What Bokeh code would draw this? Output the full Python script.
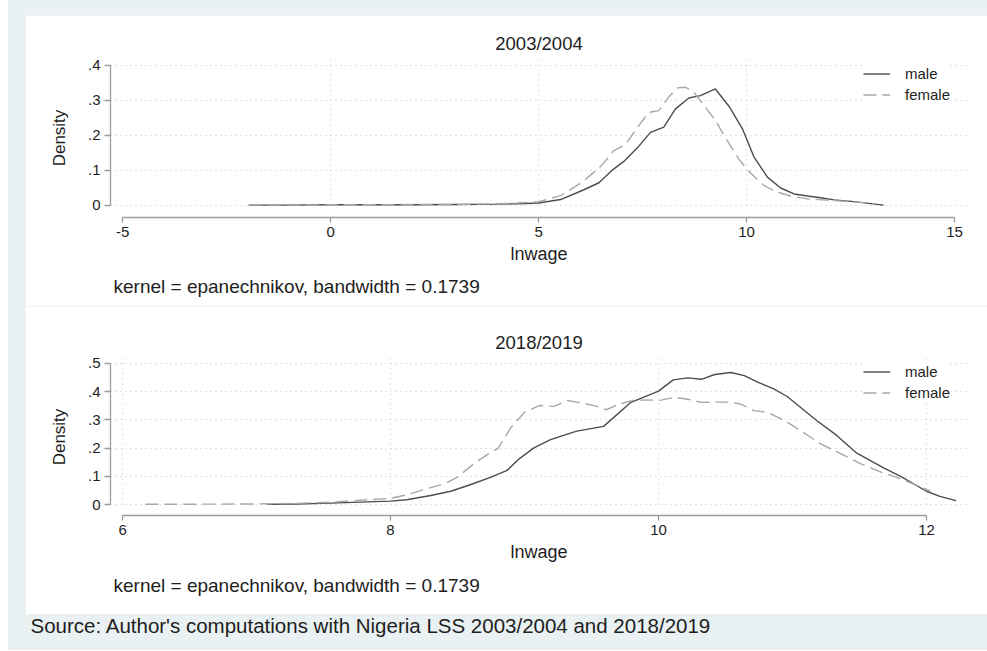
from bokeh.plotting import figure
from bokeh.models import Range1d, FixedTicker, Legend, LegendItem, Title, Spacer, Label
from bokeh.layouts import column, row
from bokeh.embed import file_html
from bokeh.resources import INLINE

FONT = "Liberation Sans"
BG = "#eaf1f2"
MALE_C = "#4d4d4d"
FEMALE_C = "#a8a8a8"
GRID_C = "#c4c4c4"
AXIS_C = "#9c9c9c"
TXT_C = "#1e1e1e"

# ---------------- data ----------------
titles = ["2003/2004", "2018/2019"]
series_names = ["male", "female"]
x_title = "lnwage"
y_title = "Density"
note = "kernel = epanechnikov, bandwidth = 0.1739"
source = "Source: Author's computations with Nigeria LSS 2003/2004 and 2018/2019"

x03_male = [-1.97, -1.0, 0.0, 1.0, 2.0, 3.0, 4.0, 4.5, 5.0, 5.53, 6.09, 6.45, 6.77, 7.05, 7.37,
            7.69, 8.01, 8.29, 8.61, 8.89, 9.25, 9.58, 9.9, 10.18, 10.5, 10.82, 11.14, 11.46,
            11.78, 12.1, 12.58, 13.29]
d03_male = [0.001, 0.001, 0.002, 0.002, 0.002, 0.003, 0.004, 0.005, 0.007, 0.017, 0.045, 0.065,
            0.101, 0.126, 0.164, 0.209, 0.224, 0.276, 0.307, 0.314, 0.333, 0.283, 0.219, 0.138,
            0.081, 0.05, 0.033, 0.027, 0.022, 0.016, 0.011, 0.001]
x03_female = [-1.97, -1.0, 0.0, 1.0, 2.0, 3.0, 4.0, 4.5, 5.0, 5.53, 6.05, 6.49, 6.81, 7.09, 7.37,
              7.65, 7.89, 8.13, 8.33, 8.53, 8.73, 8.97, 9.25, 9.53, 9.81, 10.1, 10.42, 10.74,
              11.06, 11.46, 12.1, 12.74, 13.1]
d03_female = [0.001, 0.001, 0.002, 0.002, 0.003, 0.003, 0.005, 0.007, 0.011, 0.028, 0.067, 0.111,
              0.157, 0.174, 0.222, 0.266, 0.271, 0.31, 0.336, 0.338, 0.324, 0.286, 0.243, 0.186,
              0.133, 0.092, 0.057, 0.038, 0.027, 0.019, 0.014, 0.009, 0.005]

x18_male = [7.08, 7.3, 7.55, 8.0, 8.12, 8.30, 8.45, 8.60, 8.75, 8.87, 8.96, 9.07, 9.19, 9.29, 9.39,
            9.59, 9.79, 10.0, 10.11, 10.22, 10.32, 10.42, 10.54, 10.64, 10.74, 10.86, 10.96,
            11.18, 11.33, 11.48, 11.68, 11.81, 12.0, 12.10, 12.22]
d18_male = [0.001, 0.002, 0.005, 0.012, 0.017, 0.032, 0.047, 0.071, 0.097, 0.121, 0.162, 0.201,
            0.229, 0.245, 0.26, 0.277, 0.361, 0.402, 0.442, 0.449, 0.444, 0.461, 0.468, 0.457,
            0.434, 0.41, 0.383, 0.298, 0.245, 0.182, 0.13, 0.099, 0.047, 0.029, 0.014]
x18_female = [6.17, 6.5, 7.0, 7.3, 7.55, 8.0, 8.12, 8.27, 8.40, 8.50, 8.62, 8.75, 8.80, 8.90, 9.0,
              9.11, 9.22, 9.32, 9.44, 9.54, 9.61, 9.70, 9.81, 9.91, 10.01, 10.12, 10.22, 10.32,
              10.42, 10.52, 10.61, 10.71, 10.81, 10.94, 11.06, 11.21, 11.36, 11.51, 11.66,
              11.81, 11.93, 12.03]
d18_female = [0.001, 0.001, 0.002, 0.004, 0.008, 0.022, 0.034, 0.056, 0.073, 0.097, 0.144, 0.186,
              0.197, 0.274, 0.327, 0.351, 0.348, 0.369, 0.359, 0.348, 0.336, 0.355, 0.369, 0.371,
              0.369, 0.38, 0.373, 0.362, 0.363, 0.363, 0.357, 0.333, 0.327, 0.298, 0.262, 0.215,
              0.18, 0.144, 0.115, 0.091, 0.067, 0.047]

x03_ticks = [-5, 0, 5, 10, 15]
x03_labels = ["-5", "0", "5", "10", "15"]
x03_grid = [0, 5, 10]
y03_ticks = [0, 0.1, 0.2, 0.3, 0.4]
y03_labels = ["0", ".1", ".2", ".3", ".4"]

x18_ticks = [6, 8, 10, 12]
x18_labels = ["6", "8", "10", "12"]
x18_grid = [6, 8, 10, 12]
y18_ticks = [0, 0.1, 0.2, 0.3, 0.4, 0.5]
y18_labels = ["0", ".1", ".2", ".3", ".4", ".5"]


def panel(title, xm, ym, xf, yf, xr, yr, xt, xl, xg, yt, yl, height, b_top, b_bottom,
          title_standoff, note_standoff):
    p = figure(width=962, height=height, x_range=Range1d(*xr), y_range=Range1d(*yr),
               output_backend="svg", toolbar_location=None,
               min_border_left=85, min_border_right=20,
               min_border_top=b_top, min_border_bottom=b_bottom,
               background_fill_color="white", border_fill_color="white",
               outline_line_color=None)
    p.title.text = title
    p.title.align = "center"
    p.title.text_font = FONT
    p.title.text_font_size = "18.5px"
    p.title.text_font_style = "normal"
    p.title.text_color = TXT_C
    p.title.standoff = title_standoff

    # grid
    p.xgrid.visible = False
    p.ygrid.ticker = FixedTicker(ticks=yt)
    p.ygrid.grid_line_color = GRID_C
    p.ygrid.grid_line_dash = "1 4"
    p.ygrid.grid_line_width = 1
    p.segment(x0=xg, y0=[0] * len(xg), x1=xg, y1=[yr[1]] * len(xg),
              line_color=GRID_C, line_dash="1 4", line_width=1)

    rm = p.line(xm, ym, line_color=MALE_C, line_width=1.4)
    rf = p.line(xf, yf, line_color=FEMALE_C, line_width=1.4, line_dash="13 6")

    for ax, ticks, labels, bounds in ((p.xaxis[0], xt, xl, (xt[0], xt[-1])),
                                      (p.yaxis[0], yt, yl, (yt[0], yt[-1]))):
        ax.ticker = FixedTicker(ticks=ticks)
        ax.major_label_overrides = dict(zip(ticks, labels))
        ax.bounds = bounds
        ax.axis_line_color = AXIS_C
        ax.axis_line_width = 1.3
        ax.major_tick_line_color = AXIS_C
        ax.major_tick_line_width = 1.3
        ax.major_tick_in = 0
        ax.minor_tick_line_color = None
        ax.major_label_text_font = FONT
        ax.major_label_text_font_size = "15px"
        ax.major_label_text_color = TXT_C
        ax.axis_label_text_font = FONT
        ax.axis_label_text_font_style = "normal"
        ax.axis_label_text_color = TXT_C

    p.xaxis.major_tick_out = 5
    p.xaxis.major_label_standoff = 4
    p.xaxis.axis_label = x_title
    p.xaxis.axis_label_text_font_size = "18px"
    p.xaxis.axis_label_standoff = 4
    p.yaxis.major_tick_out = 6
    p.yaxis.major_label_standoff = 4
    p.yaxis.axis_label = y_title
    p.yaxis.axis_label_text_font_size = "17px"
    p.yaxis.axis_label_standoff = 16
    p.yaxis.major_label_orientation = "horizontal"

    legend = Legend(items=[LegendItem(label=series_names[0], renderers=[rm]),
                           LegendItem(label=series_names[1], renderers=[rf])],
                    location=(753, 112), padding=4, spacing=0, margin=0,
                    glyph_width=27, glyph_height=21, label_height=21, label_standoff=15,
                    label_text_font=FONT, label_text_font_size="15px",
                    label_text_color=TXT_C, border_line_color=None,
                    background_fill_color="white", background_fill_alpha=1.0)
    p.add_layout(legend)

    p.add_layout(Title(text=note, align="left", offset=3, standoff=note_standoff,
                       text_font=FONT, text_font_size="19px", text_font_style="normal",
                       text_color=TXT_C),
                 "below")
    return p


p1 = panel(titles[0], x03_male, d03_male, x03_female, d03_female,
           (-5.29, 15.31), (-0.0343, 0.42), x03_ticks, x03_labels, x03_grid,
           y03_ticks, y03_labels, 291, 43, 89, 9, 14)
p2 = panel(titles[1], x18_male, d18_male, x18_female, d18_female,
           (5.91, 12.306), (-0.039, 0.5177), x18_ticks, x18_labels, x18_grid,
           y18_ticks, y18_labels, 308, 52, 99, 12, 17)

src = figure(width=979, height=36, x_range=Range1d(0, 979), y_range=Range1d(0, 36),
             min_border=0, output_backend="svg", toolbar_location=None,
             x_axis_location=None, y_axis_location=None,
             background_fill_color=BG, border_fill_color=BG, outline_line_color=None)
src.grid.visible = False
src.add_layout(Label(x=22, y=25, text=source, text_font=FONT, text_font_size="20.5px",
                     text_baseline="middle", text_color=TXT_C))

left_white = Spacer(width=8, height=650, styles={"background-color": "white"})
top_strip = Spacer(width=979, height=15, styles={"background-color": BG})
left_strip = Spacer(width=17, height=599, styles={"background-color": BG})
inner = column(top_strip, row(left_strip, column(p1, p2, spacing=0), spacing=0), src,
               spacing=0, styles={"background-color": BG})
layout = row(left_white, inner, spacing=0)

open("out.html", "w").write(file_html(layout, INLINE))
